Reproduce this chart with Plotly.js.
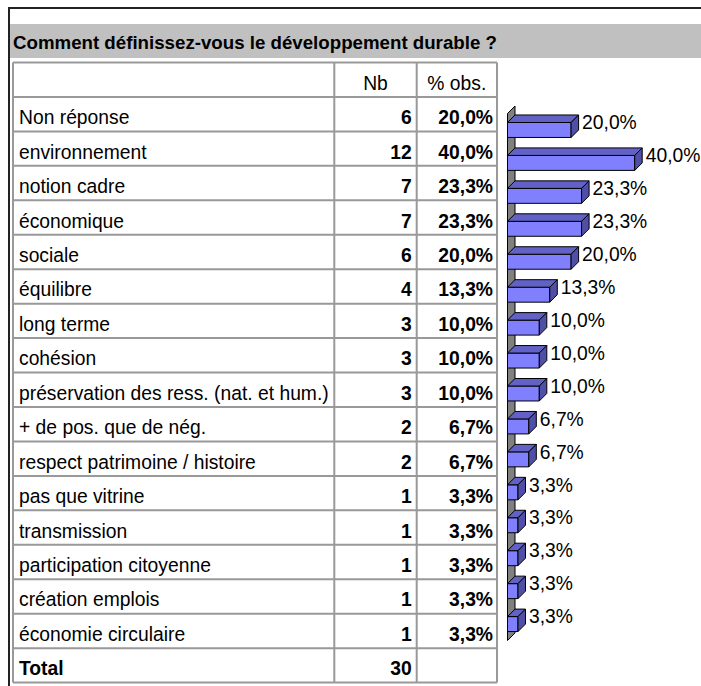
<!DOCTYPE html>
<html><head><meta charset="utf-8">
<script src="https://cdn.plot.ly/plotly-3.0.1.min.js"></script>
<style>html,body{margin:0;padding:0;background:#fff}</style>
</head><body><div id="chart" style="width:701px;height:686px"></div>
<script>
// ---- data ----
const titleText = "Comment définissez-vous le développement durable ?";
const headers = ["", "Nb", "% obs."];
const categories = ["Non réponse", "environnement", "notion cadre", "économique", "sociale",
  "équilibre", "long terme", "cohésion", "préservation des ress. (nat. et hum.)",
  "+ de pos. que de nég.", "respect patrimoine / histoire", "pas que vitrine",
  "transmission", "participation citoyenne", "création emplois", "économie circulaire"];
const counts = [6, 12, 7, 7, 6, 4, 3, 3, 3, 2, 2, 1, 1, 1, 1, 1];
const percents = [20.0, 40.0, 23.3, 23.3, 20.0, 13.3, 10.0, 10.0, 10.0, 6.7, 6.7, 3.3, 3.3, 3.3, 3.3, 3.3];
const totalLabel = "Total";
const totalCount = 30;

// ---- layout constants ----
const W = 701, H = 686;
const FONT = "Arial, 'Liberation Sans', sans-serif";
const FS = 19.3;
const fmtPct = v => v.toFixed(1).replace('.', ',') + '%';
const n = categories.length;
const idx = categories.map((_, i) => i);

// table geometry (px)
const T = {left: 13, top: 62.5, rowH: 34.45, cols: [0, 321.3, 403.7, 484], padL: 6, padR: 5, textDy: 0.15};
const nRows = n + 2;
const x2range = [-T.left, W - T.left];
const y2range = [(H - T.top) / T.rowH, -T.top / T.rowH];

// bar geometry (px)
const B = {base: 507.5, pxPerPct: 3.18, top: 113.5, catH: 32.94, depth: 7.5, barFrac: 0.455};
const xDomPx = [500, W], yDomPx = [100, 645];
const xRange = [(xDomPx[0] - B.base) / B.pxPerPct, (xDomPx[1] - B.base) / B.pxPerPct];
const yRange = [-0.5 + (yDomPx[1] - B.top) / B.catH, -0.5 + (yDomPx[0] - B.top) / B.catH];
const dx = B.depth / B.pxPerPct, dy = B.depth / B.catH, hw = B.barFrac / 2;

const traces = [];
// front faces
traces.push({type: 'bar', orientation: 'h', x: percents, y: idx, base: 0, width: B.barFrac,
  marker: {color: '#8080FF', line: {color: '#000', width: 1}}, hoverinfo: 'skip', xaxis: 'x', yaxis: 'y'});
// top and side faces
const tx = [], ty = [], sx = [], sy = [];
percents.forEach((v, i) => {
  tx.push(0, v, v + dx, dx, 0, null);
  ty.push(i - hw, i - hw, i - hw - dy, i - hw - dy, i - hw, null);
  sx.push(v, v + dx, v + dx, v, v, null);
  sy.push(i - hw, i - hw - dy, i + hw - dy, i + hw, i - hw, null);
});
traces.push({type: 'scatter', mode: 'lines', x: tx, y: ty, fill: 'toself', fillcolor: '#6262C6',
  line: {color: '#000', width: 1}, hoverinfo: 'skip', xaxis: 'x', yaxis: 'y', cliponaxis: false});
traces.push({type: 'scatter', mode: 'lines', x: sx, y: sy, fill: 'toself', fillcolor: '#4F4FA8',
  line: {color: '#000', width: 1}, hoverinfo: 'skip', xaxis: 'x', yaxis: 'y', cliponaxis: false});
// value labels
traces.push({type: 'scatter', mode: 'text', x: percents.map(v => v + dx + 3.5 / B.pxPerPct),
  y: idx.map(i => i - 0.17), text: percents.map(fmtPct), textposition: 'middle right',
  textfont: {family: FONT, size: FS, color: '#000'}, cliponaxis: false, hoverinfo: 'skip', xaxis: 'x', yaxis: 'y'});

// table texts
const cNb = T.cols[2] - T.padR, cPct = T.cols[3] - T.padR + 1;
const rowY = idx.map(i => i + 1.5 + T.textDy);
const totalY = nRows - 0.5 + T.textDy;
traces.push({type: 'scatter', mode: 'text', xaxis: 'x2', yaxis: 'y2', hoverinfo: 'skip', cliponaxis: false,
  x: idx.map(() => T.padL).concat([T.padL]), y: rowY.concat([totalY]),
  text: categories.concat(['<b>' + totalLabel + '</b>']), textposition: 'middle right',
  textfont: {family: FONT, size: FS, color: '#000'}});
traces.push({type: 'scatter', mode: 'text', xaxis: 'x2', yaxis: 'y2', hoverinfo: 'skip', cliponaxis: false,
  x: idx.map(() => cNb).concat([cNb]), y: rowY.concat([totalY]),
  text: counts.concat([totalCount]).map(c => '<b>' + c + '</b>'), textposition: 'middle left',
  textfont: {family: FONT, size: FS, color: '#000'}});
traces.push({type: 'scatter', mode: 'text', xaxis: 'x2', yaxis: 'y2', hoverinfo: 'skip', cliponaxis: false,
  x: idx.map(() => cPct), y: rowY,
  text: percents.map(v => '<b>' + fmtPct(v) + '</b>'), textposition: 'middle left',
  textfont: {family: FONT, size: FS, color: '#000'}});
traces.push({type: 'scatter', mode: 'text', xaxis: 'x2', yaxis: 'y2', hoverinfo: 'skip', cliponaxis: false,
  x: [1, 2].map(k => (T.cols[k] + T.cols[k + 1]) / 2), y: [0.5 + T.textDy, 0.5 + T.textDy],
  text: headers.slice(1), textposition: 'middle center',
  textfont: {family: FONT, size: FS, color: '#000'}});

// shapes
const shapes = [];
const gridLine = {color: '#999', width: 2};
for (let r = 0; r <= nRows; r++) {
  shapes.push({type: 'line', xref: 'x2', yref: 'y2', x0: T.cols[0], x1: T.cols[3], y0: r, y1: r, line: gridLine});
}
T.cols.forEach(c => shapes.push({type: 'line', xref: 'x2', yref: 'y2', x0: c, x1: c, y0: 0, y1: nRows, line: gridLine}));
// title band and frame
shapes.push({type: 'rect', xref: 'paper', yref: 'paper', x0: 10 / W, x1: 1, y0: 1 - 58 / H, y1: 1 - 24 / H,
  fillcolor: '#C0C0C0', line: {width: 0}, layer: 'below'});
shapes.push({type: 'line', xref: 'paper', yref: 'paper', x0: 8 / W, x1: 1, y0: 1 - 8 / H, y1: 1 - 8 / H,
  line: {color: '#222', width: 2}});
shapes.push({type: 'line', xref: 'paper', yref: 'paper', x0: 9 / W, x1: 9 / W, y0: 0, y1: 1 - 8 / H,
  line: {color: '#222', width: 2}});
// 3D wall behind the bars
shapes.push({type: 'path', xref: 'x', yref: 'y', layer: 'below',
  path: `M 0,${-0.5} L ${dx},${-0.5 - dy} L ${dx},${n - 0.5 - dy} L 0,${n - 0.5} Z`,
  fillcolor: '#808080', line: {color: '#000', width: 1}});

const layout = {
  width: W, height: H, margin: {l: 0, r: 0, t: 0, b: 0, pad: 0},
  paper_bgcolor: '#fff', plot_bgcolor: 'rgba(0,0,0,0)', showlegend: false,
  title: {text: '<b>' + titleText + '</b>', x: 13 / W, xref: 'container', xanchor: 'left',
    y: 1 - 42 / H, yref: 'container', yanchor: 'middle', font: {family: FONT, size: 18.7, color: '#000'}},
  xaxis: {domain: [xDomPx[0] / W, xDomPx[1] / W], range: xRange, visible: false, fixedrange: true},
  yaxis: {domain: [1 - yDomPx[1] / H, 1 - yDomPx[0] / H], range: yRange, visible: false, fixedrange: true},
  xaxis2: {domain: [0, 1], range: x2range, visible: false, fixedrange: true},
  yaxis2: {domain: [0, 1], range: y2range, visible: false, fixedrange: true},
  shapes: shapes
};
Plotly.newPlot('chart', traces, layout, {displayModeBar: false, staticPlot: true});
</script></body></html>
